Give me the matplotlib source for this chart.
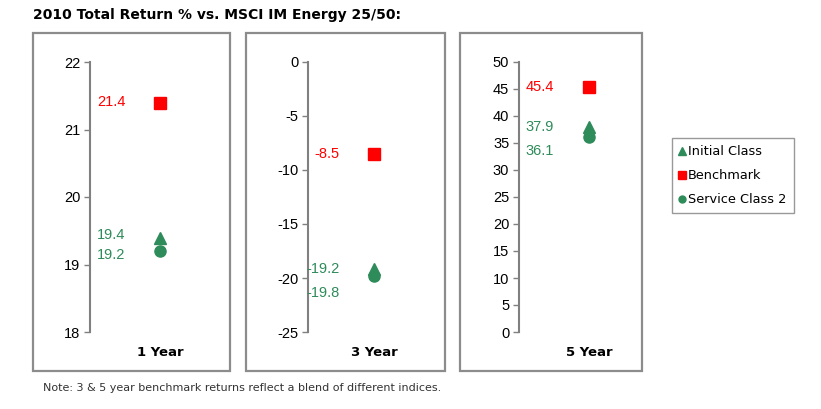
import matplotlib.pyplot as plt
from matplotlib.patches import Rectangle
from matplotlib.lines import Line2D

plt.rcParams["axes.unicode_minus"] = False

# data
periods = ["1 Year", "3 Year", "5 Year"]
initial_class = [19.4, -19.2, 37.9]
benchmark = [21.4, -8.5, 45.4]
service_class = [19.2, -19.8, 36.1]
y_limits = [(18, 22), (-25, 0), (0, 50)]
y_steps = [1, 5, 5]

green = "#2e8b5a"
red = "#ff0000"
W, H = 821, 409

fig = plt.figure(figsize=(W / 100, H / 100), dpi=100)

def fx(px):
    return px / W

def fy(py):
    return 1 - py / H

# panel boxes (left px, right px)
boxes = [(33, 230), (246, 445), (460, 642)]
for x0, x1 in boxes:
    fig.patches.append(Rectangle((fx(x0), fy(371)), fx(x1 - x0), (371 - 33) / H,
                                 transform=fig.transFigure, fill=False,
                                 edgecolor="#8c8c8c", lw=1.6))

# axes (axis px, marker px)
axes_px = [(90, 160), (308, 374), (519, 589)]
# label vertical offsets in points for (initial, service)
offsets = [(2, -3), (0, -12), (0, -10)]

for i, (ax_x, mk_x) in enumerate(axes_px):
    width = 2 * (mk_x - ax_x)
    ax = fig.add_axes([fx(ax_x), fy(332), fx(width), 270 / H])
    ax.set_xlim(0, 2)
    lo, hi = y_limits[i]
    ax.set_ylim(lo, hi)
    ax.set_yticks(range(lo, hi + 1, y_steps[i]))
    for s in ["top", "right", "bottom"]:
        ax.spines[s].set_visible(False)
    ax.spines["left"].set_color("#808080")
    ax.spines["left"].set_linewidth(1.5)
    ax.set_xticks([])
    ax.tick_params(axis="y", direction="out", length=4, width=1, color="#808080",
                   labelsize=10.5, pad=3)
    for t in ax.get_yticklabels():
        t.set_fontfamily("Liberation Sans")
    ax.patch.set_alpha(0)

    ax.plot(1, benchmark[i], "s", color=red, ms=8.5, mec=red)
    ax.plot(1, service_class[i], "o", color=green, ms=8, mec=green)
    ax.plot(1, initial_class[i], "^", color=green, ms=8, mec=green)

    lab_kw = dict(textcoords="offset points", ha="right", va="center",
                  fontsize=10.5, family="Liberation Sans")
    ax.annotate(f"{benchmark[i]:.1f}", (1, benchmark[i]), xytext=(-25, 0),
                color=red, **lab_kw)
    ax.annotate(f"{initial_class[i]:.1f}", (1, initial_class[i]),
                xytext=(-25, offsets[i][0]), color=green, **lab_kw)
    ax.annotate(f"{service_class[i]:.1f}", (1, service_class[i]),
                xytext=(-25, offsets[i][1]), color=green, **lab_kw)

    fig.text(fx(mk_x), fy(352), periods[i], ha="center", va="center",
             fontsize=9.5, fontweight="bold")

# legend
handles = [
    Line2D([], [], ls="none", marker="^", color=green, ms=6),
    Line2D([], [], ls="none", marker="s", color=red, ms=6),
    Line2D([], [], ls="none", marker="o", color=green, ms=5),
]
leg = fig.legend(handles, ["Initial Class", "Benchmark", "Service Class 2"],
                 loc="upper left", bbox_to_anchor=(fx(672), fy(138)),
                 fontsize=9.3, handlelength=0.5, handletextpad=0.2,
                 labelspacing=0.85, borderpad=0.55, fancybox=False,
                 frameon=True, borderaxespad=0)
leg.get_frame().set_edgecolor("#808080")
leg.get_frame().set_linewidth(1)

fig.text(fx(33), fy(15), "2010 Total Return % vs. MSCI IM Energy 25/50:",
         ha="left", va="center", fontsize=10, fontweight="bold")
fig.text(fx(43), fy(388), "Note: 3 & 5 year benchmark returns reflect a blend of different indices.",
         ha="left", va="center", fontsize=8, color="#333333")

fig.savefig("out.png", dpi=100)
